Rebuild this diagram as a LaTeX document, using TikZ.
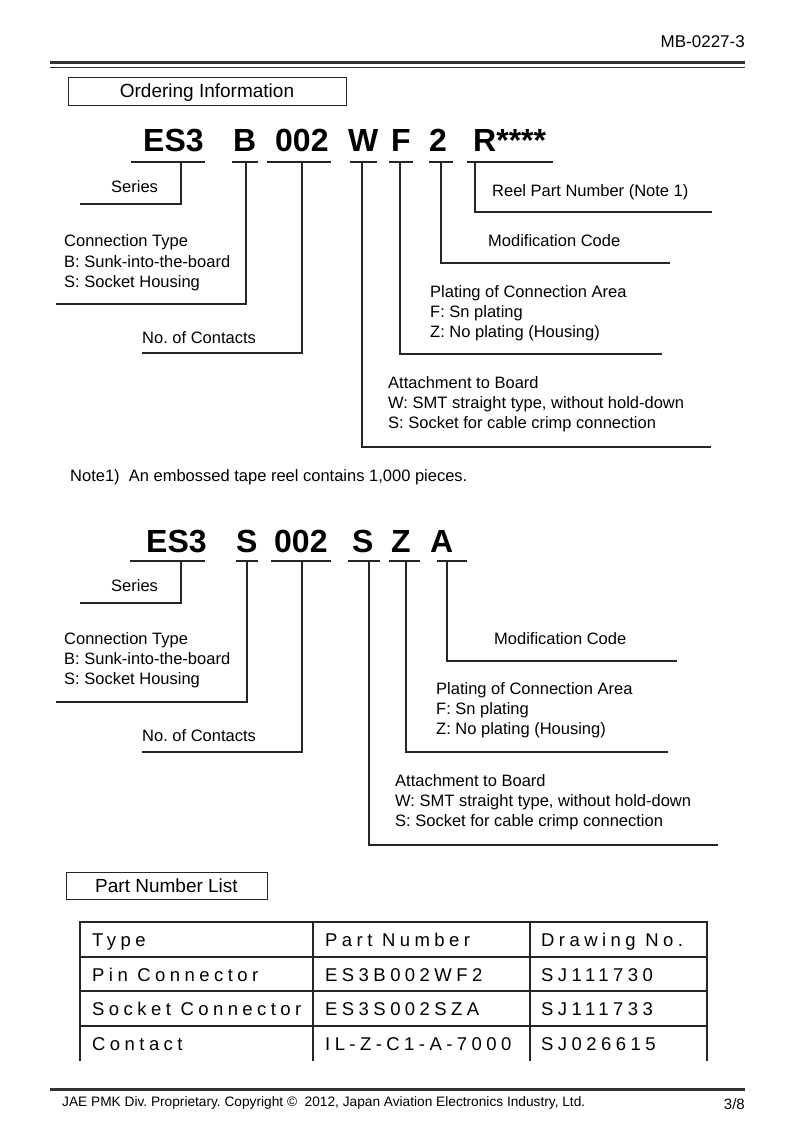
\documentclass[tikz,border=0pt]{standalone}
\usepackage{fontspec}
\setmainfont{Liberation Sans}
\newfontfamily\tablefont[LetterSpace=24]{Liberation Sans}
\begin{document}
\frenchspacing
\begin{tikzpicture}[x=1pt,y=-1pt,
  ln/.style={draw=black!85, line width=1.1pt},
  tl/.style={draw=black!85, line width=1.6pt},
  body/.style={font=\fontsize{16.5}{20}\selectfont, inner sep=0pt, anchor=base west},
  big/.style={font=\fontsize{32}{36}\selectfont\bfseries, inner sep=0pt, anchor=base west},
  boxlabel/.style={font=\fontsize{19}{22}\selectfont, inner sep=0pt},
  titlebox/.style={draw=black!85, line width=1pt},
  tab/.style={font=\tablefont\fontsize{18.5}{22}\selectfont, inner sep=0pt, anchor=base west},
  foot/.style={font=\fontsize{13.7}{16}\selectfont, inner sep=0pt}
]
\useasboundingbox (0,0) rectangle (793,1123);
\fill[white] (0,0) rectangle (793,1123);

% header
\node[foot, font=\fontsize{17}{20}\selectfont, anchor=base east] (hdr) at (745,48) {MB-0227-3};
\draw[line width=3pt, black!80] (50,62.5) -- (745,62.5);
\draw[line width=1.2pt, black!80] (50,67.5) -- (745,67.5);

% Ordering information box
\draw[titlebox] (68,78) rectangle (346,106);
\node[boxlabel] (oi) at (207,92.5) {Ordering Information};

% ---------- Part number 1 ----------
\node[big] (a1) at (143,151.5) {ES3};
\node[big] (a2) at (233,151.5) {B};
\node[big] (a3) at (275,151.5) {002};
\node[big] (a4) at (348,151.5) {W};
\node[big] (a5) at (391,151.5) {F};
\node[big] (a6) at (429,151.5) {2};
\node[big] (a7) at (473,151.5) {R****};

\draw[ln] (131,162) -- (205,162);
\draw[ln] (232,162) -- (258,162);
\draw[ln] (267,162) -- (331,162);
\draw[ln] (350,162) -- (377,162);
\draw[ln] (389,162) -- (413,162);
\draw[ln] (429,162) -- (453,162);
\draw[ln] (467,162) -- (553,162);

\coordinate (c1) at (181,162);
\coordinate (c2) at (246,162);
\coordinate (c3) at (302,162);
\coordinate (c4) at (362,162);
\coordinate (c5) at (400,162);
\coordinate (c6) at (441,162);
\coordinate (c7) at (475,162);

\draw[ln] (c1) -- (181,204) -- (80,204);
\draw[ln] (c2) -- (246,304) -- (56,304);
\draw[ln] (c3) -- (302,353) -- (142,353);
\draw[ln] (c4) -- (362,447) -- (711,447);
\draw[ln] (c5) -- (400,354) -- (662,354);
\draw[ln] (c6) -- (441,263) -- (670,263);
\draw[ln] (c7) -- (475,212) -- (712,212);

\node[body] (s1) at (111,193) {Series};
\node[body] (r1) at (492,197) {Reel Part Number (Note 1)};
\node[body] (ct1a) at (64,247) {Connection Type};
\node[body] (ct1b) at (64,267) {B: Sunk-into-the-board};
\node[body] (ct1c) at (64,287) {S: Socket Housing};
\node[body] (mc1) at (488,247) {Modification Code};
\node[body] (pl1a) at (430,297) {Plating of Connection Area};
\node[body] (pl1b) at (430,317) {F: Sn plating};
\node[body] (pl1c) at (430,337) {Z: No plating (Housing)};
\node[body] (nc1) at (142,343) {No. of Contacts};
\node[body] (at1a) at (388,388) {Attachment to Board};
\node[body] (at1b) at (388,408) {W: SMT straight type, without hold-down};
\node[body] (at1c) at (388,428) {S: Socket for cable crimp connection};

\node[body] (note) at (70,481) {Note1)\ \ An embossed tape reel contains 1,000 pieces.};

% ---------- Part number 2 ----------
\node[big] (b1) at (146,552.5) {ES3};
\node[big] (b2) at (236,552.5) {S};
\node[big] (b3) at (274,552.5) {002};
\node[big] (b4) at (352,552.5) {S};
\node[big] (b5) at (391,552.5) {Z};
\node[big] (b6) at (430,552.5) {A};

\draw[ln] (130,561) -- (205,561);
\draw[ln] (236,561) -- (258,561);
\draw[ln] (271,561) -- (331,561);
\draw[ln] (348,561) -- (380,561);
\draw[ln] (389,561) -- (420,561);
\draw[ln] (437,561) -- (467,561);

\coordinate (d1) at (181,561);
\coordinate (d2) at (247,561);
\coordinate (d3) at (302,561);
\coordinate (d4) at (369,561);
\coordinate (d5) at (406,561);
\coordinate (d6) at (447,561);

\draw[ln] (d1) -- (181,603) -- (80,603);
\draw[ln] (d2) -- (247,702) -- (56,702);
\draw[ln] (d3) -- (302,752) -- (142,752);
\draw[ln] (d4) -- (369,845) -- (718,845);
\draw[ln] (d5) -- (406,752) -- (668,752);
\draw[ln] (d6) -- (447,661) -- (677,661);

\node[body] (s2) at (111,591) {Series};
\node[body] (ct2a) at (64,644) {Connection Type};
\node[body] (ct2b) at (64,664) {B: Sunk-into-the-board};
\node[body] (ct2c) at (64,684) {S: Socket Housing};
\node[body] (mc2) at (494,644) {Modification Code};
\node[body] (pl2a) at (436,694) {Plating of Connection Area};
\node[body] (pl2b) at (436,714) {F: Sn plating};
\node[body] (pl2c) at (436,734) {Z: No plating (Housing)};
\node[body] (nc2) at (142,741) {No. of Contacts};
\node[body] (at2a) at (395,786) {Attachment to Board};
\node[body] (at2b) at (395,806) {W: SMT straight type, without hold-down};
\node[body] (at2c) at (395,826) {S: Socket for cable crimp connection};

% ---------- Part number list ----------
\draw[titlebox] (66,872) rectangle (267,899);
\node[boxlabel] (pnl) at (166.5,885.5) {Part Number List};

\draw[tl] (80,1061) -- (80,922) -- (707,922) -- (707,1061);
\draw[tl] (313,922) -- (313,1061);
\draw[tl] (530,922) -- (530,1061);
\draw[tl] (80,957) -- (707,957);
\draw[tl] (80,991) -- (707,991);
\draw[tl] (80,1026) -- (707,1026);

\node[tab] (t11) at (92,946.5) {Type};
\node[tab] (t12) at (325,946.5) {Part Number};
\node[tab] (t13) at (541,946.5) {Drawing No.};
\node[tab] (t21) at (92,981) {Pin Connector};
\node[tab] (t22) at (325,981) {ES3B002WF2};
\node[tab] (t23) at (541,981) {SJ111730};
\node[tab] (t31) at (92,1015.5) {Socket Connector};
\node[tab] (t32) at (325,1015.5) {ES3S002SZA};
\node[tab] (t33) at (541,1015.5) {SJ111733};
\node[tab] (t41) at (92,1050) {Contact};
\node[tab] (t42) at (325,1050) {IL-Z-C1-A-7000};
\node[tab] (t43) at (541,1050) {SJ026615};

% footer
\draw[line width=3pt, black!80] (50,1089) -- (745,1089);
\node[foot, anchor=base west] (ft) at (62,1106) {JAE PMK Div. Proprietary. Copyright \textcopyright\ \ 2012, Japan Aviation Electronics Industry, Ltd.};
\node[foot, font=\fontsize{15}{18}\selectfont, anchor=base east] (pg) at (745,1109) {3/8};
\end{tikzpicture}
\end{document}
